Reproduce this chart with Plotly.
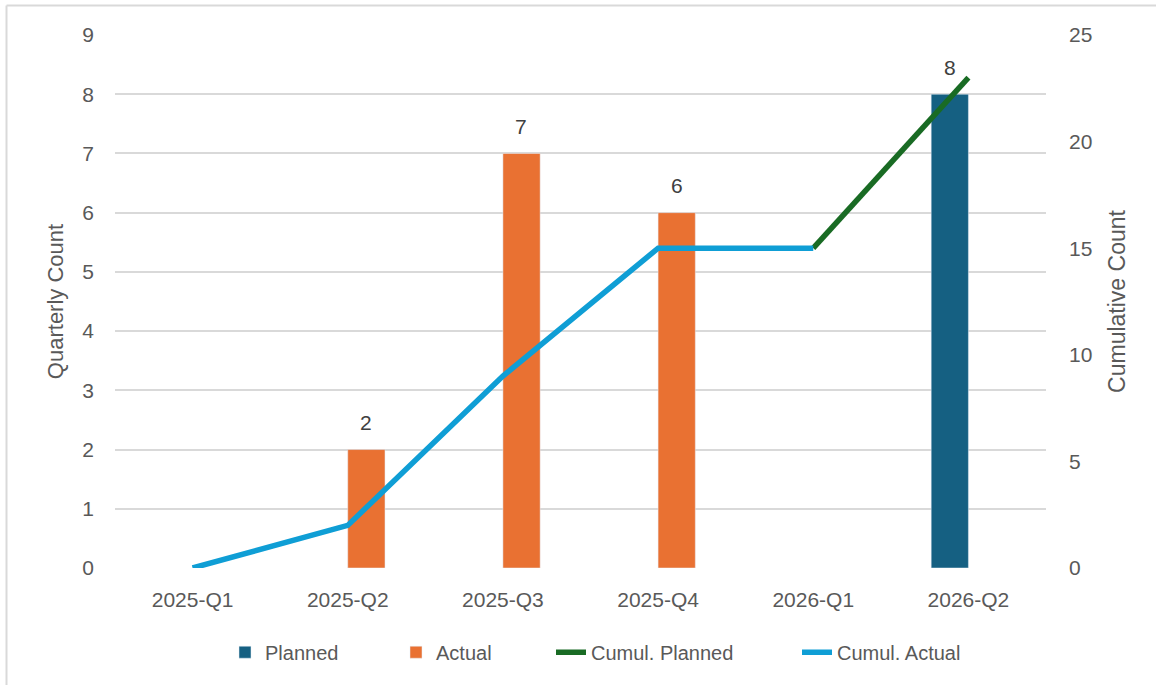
import plotly.graph_objects as go

quarters = ["2025-Q1", "2025-Q2", "2025-Q3", "2025-Q4", "2026-Q1", "2026-Q2"]
planned = [None, None, None, None, None, 8]
actual = [None, 2, 7, 6, None, None]
cumul_planned = [None, None, None, None, 15, 23]
cumul_actual = [0, 2, 9, 15, 15, None]

C_PLANNED = "#156082"
C_ACTUAL = "#E97132"
C_CPLAN = "#196B24"
C_CACT = "#0F9ED5"
TXT = "#595959"
LBL = "#404040"
GRID = "#D9D9D9"
FONT = "Liberation Sans, Arial, sans-serif"

fig = go.Figure()
fig.add_trace(go.Bar(x=quarters, y=planned, name="Planned", marker_color=C_PLANNED,
                     legend="legend"))
fig.add_trace(go.Bar(x=quarters, y=actual, name="Actual", marker_color=C_ACTUAL,
                     legend="legend2"))
fig.add_trace(go.Scatter(
    x=quarters, y=cumul_planned, name="Cumul. Planned", mode="lines",
    line=dict(color=C_CPLAN, width=5.5), yaxis="y2", cliponaxis=False,
    legend="legend3",
))
fig.add_trace(go.Scatter(
    x=quarters, y=cumul_actual, name="Cumul. Actual", mode="lines",
    line=dict(color=C_CACT, width=5.5), yaxis="y2", cliponaxis=False,
    legend="legend4",
))

# data labels above the bars (offset to each bar within its group)
annotations = []
for series, shift in ((planned, -18.5), (actual, 18.5)):
    for q, v in zip(quarters, series):
        if v is not None:
            annotations.append(dict(
                x=q, y=v, xref="x", yref="y", text=str(v), showarrow=False,
                xshift=shift, yshift=27, yanchor="middle",
                font=dict(size=21, color=LBL, family=FONT),
            ))


def leg(px_left):
    return dict(
        orientation="h", x=(px_left - 115) / 931, xanchor="left",
        y=-0.158, yanchor="middle",
        font=dict(family=FONT, size=20, color=TXT), bgcolor="rgba(0,0,0,0)",
    )


fig.update_layout(
    width=1156, height=685,
    margin=dict(l=115, r=110, t=35, b=117, autoexpand=False),
    paper_bgcolor="white", plot_bgcolor="white",
    font=dict(family=FONT, color=TXT, size=21),
    barmode="group", bargap=0.52, bargroupgap=0,
    showlegend=True,
    legend=leg(225), legend2=leg(396), legend3=leg(551), legend4=leg(797),
    xaxis=dict(
        type="category", showgrid=False, zeroline=False, showline=False,
        ticks="", tickfont=dict(size=21, color=TXT), ticklabelstandoff=17,
        automargin=False,
    ),
    yaxis=dict(
        range=[0, 9], dtick=1, showgrid=True, gridcolor=GRID, gridwidth=1.5,
        zeroline=False, showline=False, ticks="",
        tickfont=dict(size=21, color=TXT), ticklabelstandoff=20,
        title=dict(text="Quarterly Count", font=dict(size=22, color=TXT), standoff=12),
        automargin=False,
    ),
    yaxis2=dict(
        range=[0, 25], dtick=5, overlaying="y", side="right", showgrid=False,
        zeroline=False, showline=False, ticks="",
        tickfont=dict(size=21, color=TXT), ticklabelstandoff=22,
        title=dict(text="Cumulative Count", font=dict(size=23, color=TXT), standoff=17),
        automargin=False,
    ),
    annotations=annotations,
    shapes=[
        dict(type="line", xref="paper", yref="paper",
             x0=(6.5 - 115) / 931, x1=(1160 - 115) / 931,
             y0=1 + (35 - 5.5) / 533, y1=1 + (35 - 5.5) / 533,
             line=dict(color=GRID, width=2)),
        dict(type="line", xref="paper", yref="paper",
             x0=(6.5 - 115) / 931, x1=(6.5 - 115) / 931,
             y0=1 + (35 - 5.5) / 533, y1=(568 - 690) / 533,
             line=dict(color=GRID, width=2)),
    ],
)

fig.write_html("out.html")
